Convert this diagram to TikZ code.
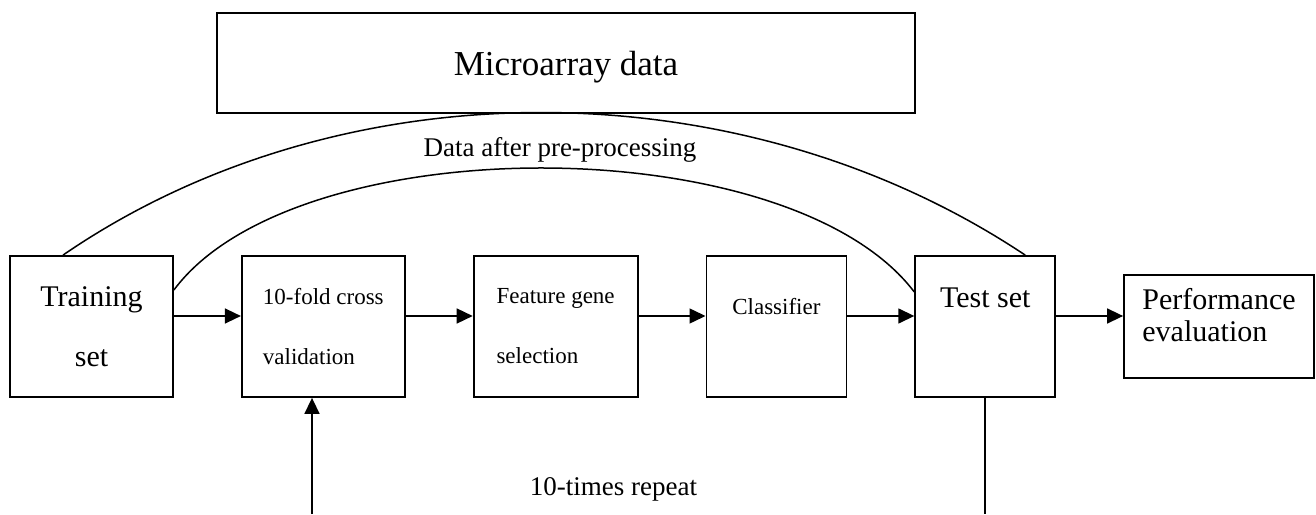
\documentclass[tikz,border=0pt]{standalone}
\usepackage{fontspec}
\setmainfont{Liberation Serif}
\usepackage{tikz}
\usetikzlibrary{calc, positioning, arrows.meta}
\tikzset{
    box/.style={rectangle, draw=black, line width=1.8pt, fill=white, inner sep=0pt, minimum height=141pt},
    bigtxt/.style={font=\fontsize{30}{60}\selectfont},
    smalltxt/.style={font=\fontsize{23}{60}\selectfont, align=left},
    note/.style={font=\fontsize{27}{32}\selectfont},
    arrow/.style={-{Triangle[length=16pt, width=15pt]}, line width=1.5pt},
    link/.style={line width=1.5pt}
}

\begin{document}
\begin{tikzpicture}[x=1pt, y=1pt, node distance=67pt]
    \useasboundingbox (0,0) rectangle (1316,514);

    % Top box
    \node[box, minimum width=698pt, minimum height=100pt, font=\fontsize{35}{42}\selectfont, text height=33.6pt, text depth=7.6pt] (micro) at (566,451) {Microarray data};

    % Pipeline
    \node[box, bigtxt, align=center, minimum width=163pt] (train) at (91.5,187.5) {Training\\set};
    \node[box, smalltxt, minimum width=163pt, right=of train] (cv) {10-fold cross\\validation};
    \node[box, smalltxt, minimum width=164pt, right=of cv] (fsel) {Feature gene\\selection};
    \node[box, smalltxt, minimum width=140pt, text height=15.7pt, text depth=38.7pt, right=of fsel] (clf) {Classifier};
    \node[box, bigtxt, minimum width=140pt, text height=20pt, text depth=57pt, right=of clf] (test) {Test set};
    \node[box, font=\fontsize{30}{32}\selectfont, align=left, minimum width=190pt, minimum height=103pt, right=of test] (perf) {Performance\\evaluation\rule[-23pt]{0pt}{23pt}};

    \foreach \a/\b in {train/cv, cv/fsel, fsel/clf, clf/test, test/perf}
        \draw[arrow] ([yshift=10.5pt]\a.east) -- ([yshift=10.5pt]\b.west);

    % Data split curves
    \draw[link] ([xshift=-28.5pt]train.north) .. controls (340,449) and (740,449) .. ([xshift=40pt]test.north);
    \draw[link] ([yshift=36.5pt]train.east) .. controls (295,387) and (789,387) .. ([yshift=34.5pt]test.west);
    \node[note] (pre) at (560,364) {Data after pre-processing};

    % Repeat loop
    \coordinate (repin) at (312,0);
    \coordinate (repout) at (test.south |- repin);
    \draw[arrow] (repin) -- (repin |- cv.south);
    \draw[link] (test.south) -- (repout);
    \node[note] (rep) at (613.5,25) {10-times repeat};
\end{tikzpicture}
\end{document}
